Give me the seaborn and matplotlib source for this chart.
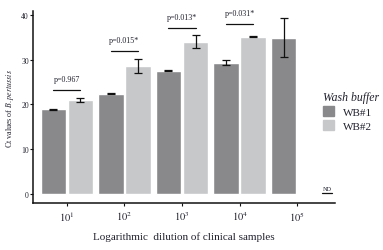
import numpy as np
import pandas as pd
import matplotlib
matplotlib.use('Agg')
import matplotlib.pyplot as plt
import seaborn as sns

# --- Data ---
dilutions = ['$10^{1}$', '$10^{2}$', '$10^{3}$', '$10^{4}$', '$10^{5}$']
buffers = ['WB#1', 'WB#2']
wb1_ct = [18.9, 22.4, 27.5, 29.3, 34.9]
wb1_sd = [0.05, 0.05, 0.15, 0.6, 4.25]
wb2_ct = [21.0, 28.6, 34.0, 35.1, np.nan]
wb2_sd = [0.45, 1.6, 1.5, 0.08, np.nan]
p_labels = ['p=0.967', 'p=0.015*', 'p=0.013*', 'p=0.031*']
p_line_y = [23.2, 31.9, 37.0, 38.0]

df = pd.DataFrame({
    'dilution': dilutions * 2,
    'buffer': ['WB#1'] * 5 + ['WB#2'] * 5,
    'ct': wb1_ct + wb2_ct,
})

dark = '#89898c'
light = '#c7c8ca'
txt = '#222230'

sns.set_style('white')
plt.rcParams['font.family'] = ['Liberation Serif', 'DejaVu Serif']
plt.rcParams['mathtext.fontset'] = 'stix'

fig = plt.figure(figsize=(3.83, 2.51), dpi=100)
ax = fig.add_axes([0.086, 0.187, 0.789, 0.765])

sns.barplot(data=df, x='dilution', y='ct', hue='buffer', order=dilutions,
            hue_order=buffers, palette=[dark, light], width=0.94, gap=0.06,
            errorbar=None, saturation=1, ax=ax)

# error bars
offset = 0.235
for k, (ct, sd) in enumerate([(wb1_ct, wb1_sd), (wb2_ct, wb2_sd)]):
    xs = np.arange(len(dilutions)) + (-offset if k == 0 else offset)
    ax.errorbar(xs, ct, yerr=sd, fmt='none', ecolor='#111111',
                elinewidth=0.9, capsize=2.8, capthick=0.9)

# p-value brackets
for i, (lab, yl) in enumerate(zip(p_labels, p_line_y)):
    ax.plot([i - offset, i + offset], [yl, yl], color='#111111', lw=0.9)
    ax.text(i, yl + 1.5, lab, ha='center', va='bottom', fontsize=5.8, color=txt)

# not detected
ax.plot([4.43, 4.61], [0.2, 0.2], color='#111111', lw=0.9)
ax.text(4.52, 0.7, 'ND', ha='center', va='bottom', fontsize=4.5, color=txt)

ax.set_xlim(-0.59, 4.66)
ax.set_ylim(-2, 40.8)
ax.set_yticks([0, 10, 20, 30, 40])
sns.despine(ax=ax)
for s in ['left', 'bottom']:
    ax.spines[s].set_linewidth(1.1)
    ax.spines[s].set_color('#111111')
ax.tick_params(axis='both', direction='out', length=2.5, width=0.8,
               color='#111111', left=True, bottom=True)
ax.tick_params(axis='y', labelsize=5.5, pad=0.5, labelcolor=txt)
ax.tick_params(axis='x', labelsize=7.5, pad=2, labelcolor=txt)

ax.set_xlabel('Logarithmic  dilution of clinical samples', fontsize=8,
              color=txt, labelpad=6)
ax.set_ylabel('Ct values of $\\mathit{B. pertussis}$', fontsize=5.8,
              color=txt, labelpad=4)

ax.legend_.remove()
handles = [plt.Rectangle((0, 0), 1, 1, color=c) for c in [dark, light]]
leg = fig.legend(handles, buffers, title='Wash buffer', loc='upper left',
                 bbox_to_anchor=(0.818, 0.675), frameon=False, fontsize=8,
                 handlelength=1.0, handleheight=1.0, handletextpad=0.8,
                 labelspacing=0.3, labelcolor=txt,
                 title_fontproperties={'style': 'italic', 'size': 8.5})
leg.get_title().set_color(txt)
leg._legend_box.align = 'left'

fig.savefig('out.png', dpi=100)
